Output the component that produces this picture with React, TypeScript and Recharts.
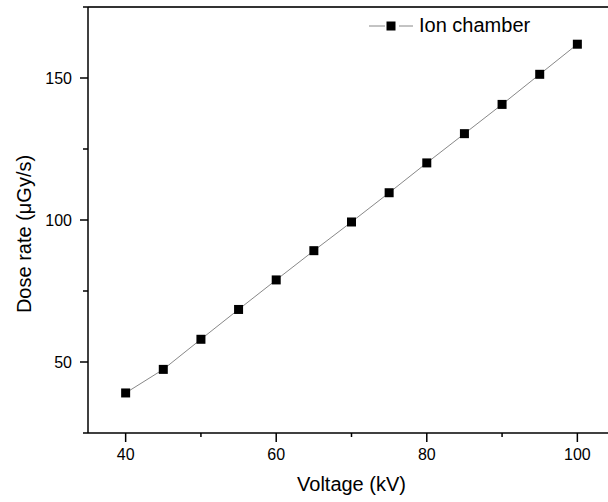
import { LineChart, Line, XAxis, YAxis, Legend, ReferenceLine, Label } from 'recharts';

const voltages = [40, 45, 50, 55, 60, 65, 70, 75, 80, 85, 90, 95, 100];
const doseRates = [39.1, 47.4, 58.0, 68.5, 78.9, 89.2, 99.3, 109.6, 120.1, 130.4, 140.7, 151.3, 161.9];
const xTicks = [40, 50, 60, 70, 80, 90, 100];
const xLabeled = [40, 60, 80, 100];
const yTicks = [25, 50, 75, 100, 125, 150, 175];
const yLabeled = [50, 100, 150];
const seriesName = 'Ion chamber';

const data = voltages.map((v, i) => ({ voltage: v, dose: doseRates[i] }));

const FONT = '"Liberation Sans", Arial, sans-serif';

const SquareDot = (props: any) => {
    const { cx, cy } = props;
    if (cx == null || cy == null) return null;
    return <rect x={cx - 4.5} y={cy - 4.5} width={9} height={9} fill="#000" />;
};

const XTick = (props: any) => {
    const { x, y, payload } = props;
    const major = xLabeled.includes(payload.value);
    return (
        <g>
            <line x1={x} y1={y} x2={x} y2={y + (major ? 9 : 4)} stroke="#000" strokeWidth={1.5} />
            {major && (
                <text x={x} y={y + 27} textAnchor="middle" fontSize={16} fontFamily={FONT} fill="#000">
                    {payload.value}
                </text>
            )}
        </g>
    );
};

const YTick = (props: any) => {
    const { x, y, payload } = props;
    const major = yLabeled.includes(payload.value);
    return (
        <g>
            <line x1={x - (major ? 8 : 5)} y1={y} x2={x} y2={y} stroke="#000" strokeWidth={1.5} />
            {major && (
                <text x={x - 16} y={y + 6} textAnchor="end" fontSize={16} fontFamily={FONT} fill="#000">
                    {payload.value}
                </text>
            )}
        </g>
    );
};

const YTitle = () => (
    <text
        x={24}
        y={234}
        transform="rotate(-90, 24, 234)"
        textAnchor="middle"
        dominantBaseline="central"
        fontSize={20}
        fontFamily={FONT}
        fill="#000"
    >
        Dose rate (μGy/s)
    </text>
);

// legend symbol: line, gap, square, gap, line
const renderLegend = () => (
    <div style={{ display: 'flex', alignItems: 'center', fontFamily: FONT }}>
        <svg width={44} height={20}>
            <line x1={0} y1={10} x2={16} y2={10} stroke="#888" strokeWidth={1} />
            <rect x={17.5} y={5.5} width={9} height={9} fill="#000" />
            <line x1={30} y1={10} x2={44} y2={10} stroke="#888" strokeWidth={1} />
        </svg>
        <span style={{ marginLeft: 6, fontSize: 20, color: '#000' }}>{seriesName}</span>
    </div>
);

export default function App() {
    return (
        <div style={{ position: 'fixed', top: 0, left: 0, width: 608, height: 502, overflow: 'hidden', background: '#fff' }}>
            <LineChart width={620} height={502} data={data} margin={{ top: 7, right: 5, bottom: 0, left: 0 }}>
                <XAxis
                    dataKey="voltage"
                    type="number"
                    domain={[35, 105]}
                    ticks={xTicks}
                    interval={0}
                    height={69}
                    tickSize={0}
                    tickMargin={0}
                    tickLine={false}
                    tick={<XTick />}
                    axisLine={{ stroke: '#000', strokeWidth: 1.5 }}
                >
                    <Label value="Voltage (kV)" position="insideBottom" offset={11} fontSize={20} fontFamily={FONT} fill="#000" />
                </XAxis>
                <YAxis
                    type="number"
                    domain={[25, 175]}
                    ticks={yTicks}
                    interval={0}
                    width={88}
                    tickSize={0}
                    tickMargin={0}
                    tickLine={false}
                    tick={<YTick />}
                    axisLine={{ stroke: '#000', strokeWidth: 1.5 }}
                    label={<YTitle />}
                />
                <ReferenceLine y={175} stroke="#333" strokeWidth={2} />
                <Legend
                    verticalAlign="middle"
                    align="center"
                    layout="horizontal"
                    content={renderLegend}
                    wrapperStyle={{ top: 14, left: 369, width: 220 }}
                />
                <Line
                    type="linear"
                    dataKey="dose"
                    name={seriesName}
                    stroke="#888"
                    strokeWidth={1}
                    dot={<SquareDot />}
                    activeDot={false}
                    isAnimationActive={false}
                />
            </LineChart>
        </div>
    );
}
